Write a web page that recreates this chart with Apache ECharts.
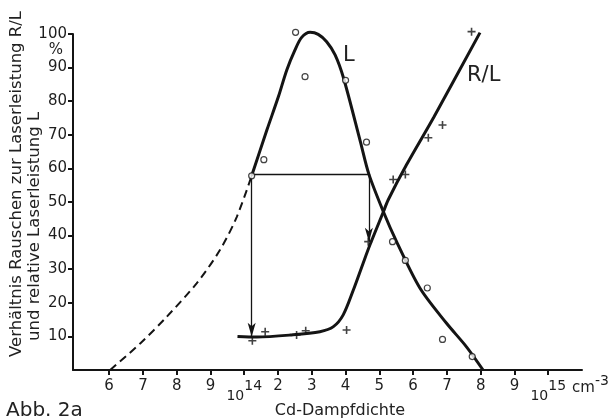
<!DOCTYPE html>
<html><head><meta charset="utf-8">
<script src="https://cdn.jsdelivr.net/npm/echarts@6/dist/echarts.min.js"></script>
<style>html,body{margin:0;padding:0;background:#fff}#c{width:615px;height:420px}</style>
</head><body><div id="c"></div>
<script>
// Axis of the figure: equally spaced ticks, values in units of 10^14 cm^-3
const tickDensities = [0.6, 0.7, 0.8, 0.9, 1, 2, 3, 4, 5, 6, 7, 8, 9, 10];
const tickLabels = ['6', '7', '8', '9', '10^14', '2', '3', '4', '5', '6', '7', '8', '9', '10^15'];

// Measured points: relative laser power L (circles)
const lPointDensity = [1.22, 1.58, 2.52, 2.80, 4.00, 4.62, 5.39, 5.77, 6.42, 6.87, 7.75];
const lPointValue   = [57.8, 62.6, 100.5, 87.3, 86.2, 67.8, 38.2, 32.6, 24.4, 9.1, 4.0];

// Measured points: noise to laser power R/L (crosses)
const rlPointDensity = [1.24, 1.62, 2.55, 2.82, 4.03, 4.67, 5.41, 5.77, 6.45, 6.87, 7.73];
const rlPointValue   = [8.7, 11.4, 10.4, 11.7, 11.9, 38.2, 56.7, 58.2, 69.1, 72.9, 100.7];

// Drawn curve L (solid part)
const lCurveDensity = [1.22, 1.67, 2.01, 2.26, 2.50, 2.70, 2.95, 3.19, 3.44, 3.69, 3.94, 4.44, 4.69, 5.12, 5.51, 6.20, 6.99, 7.58, 8.07];
const lCurveValue   = [57.8, 71.4, 81.3, 89.3, 95.2, 99.0, 100.5, 99.9, 97.7, 93.8, 86.9, 67.9, 58.3, 47.1, 38.2, 24.4, 13.9, 6.9, 0];

// Drawn curve L (dashed extrapolation)
const lDashDensity = [0.603, 0.692, 0.771, 0.859, 0.928, 0.978, 1.22];
const lDashValue   = [0, 7.9, 15.9, 25.8, 35.7, 45.6, 57.8];

// Drawn curve R/L
const rlCurveDensity = [0.98, 1.37, 2.36, 3.24, 3.64, 3.93, 4.23, 4.52, 4.72, 5.12, 5.26, 5.80, 6.62, 7.98];
const rlCurveValue   = [10.0, 9.8, 10.4, 11.4, 12.9, 16.4, 23.8, 31.8, 37.2, 47.1, 50.6, 61.0, 75.4, 100.4];

// Construction lines (horizontal at L level, arrows down)
const guideDensity = [1.22, 4.69];
const guideLevel = 58.3;
const arrowEndValue = [9.9, 38.2];

function toAxis(d) {
  const n = tickDensities.length;
  for (let k = 0; k < n - 1; k++) {
    const a = tickDensities[k], b = tickDensities[k + 1];
    if (d <= b || k === n - 2) return k + (d - a) / (b - a);
  }
}
function pairs(ds, vs) { return ds.map((d, i) => [toAxis(d), vs[i]]); }

const INK = '#141414';
const FONT = 'DejaVu Sans';
const tickIdx = tickDensities.map((d, i) => i);

const chart = echarts.init(document.getElementById('c'), null, {renderer: 'canvas'});
chart.setOption({
  animation: false,
  backgroundColor: '#fff',
  grid: {left: 73, right: 33, top: 34, bottom: 50, containLabel: false, outerBoundsMode: 'none'},
  xAxis: {
    type: 'value', min: -1.07, max: 14,
    axisLine: {show: true, onZero: false, lineStyle: {color: INK, width: 2}},
    splitLine: {show: false},
    axisTick: {show: true, customValues: tickIdx, length: 5, lineStyle: {color: INK, width: 2}},
    axisLabel: {
      customValues: tickIdx, margin: 9, color: '#1e1e1e', fontFamily: FONT, fontSize: 15,
      formatter: function (v) {
        const s = tickLabels[Math.round(v)] || '';
        if (s.indexOf('^') >= 0) {
          const p = s.split('^');
          return '{b|' + p[0] + '}{e|' + p[1] + '}';
        }
        return '{n|' + s + '}';
      },
      rich: {
        n: {fontFamily: FONT, fontSize: 15, lineHeight: 15, color: '#1e1e1e'},
        b: {fontFamily: FONT, fontSize: 14, lineHeight: 24, verticalAlign: 'bottom', color: '#1e1e1e'},
        e: {fontFamily: FONT, fontSize: 14, lineHeight: 15, verticalAlign: 'top', color: '#1e1e1e'}
      }
    }
  },
  yAxis: {
    type: 'value', min: 0, max: 100, interval: 10,
    axisLine: {show: true, onZero: false, lineStyle: {color: INK, width: 2}},
    splitLine: {show: false},
    axisTick: {show: true, length: 5, lineStyle: {color: INK, width: 2}},
    axisLabel: {showMinLabel: false, margin: 6, color: '#1e1e1e', fontFamily: FONT, fontSize: 15}
  },
  series: [
    {
      name: 'L', type: 'line', data: pairs(lCurveDensity, lCurveValue), smooth: 0.3,
      showSymbol: false, symbol: 'none', clip: false,
      lineStyle: {color: INK, width: 3}
    },
    {
      name: 'L extrapoliert', type: 'line', data: pairs(lDashDensity, lDashValue), smooth: 0.3,
      showSymbol: false, symbol: 'none', clip: false,
      lineStyle: {color: INK, width: 2, type: [8, 5]}
    },
    {
      name: 'R/L', type: 'line', data: pairs(rlCurveDensity, rlCurveValue), smooth: 0.3,
      showSymbol: false, symbol: 'none', clip: false,
      lineStyle: {color: INK, width: 3}
    },
    {
      name: 'Hilfslinien', type: 'line', data: [], symbol: 'none',
      markLine: {
        silent: true, label: {show: false}, symbolSize: [6, 14],
        lineStyle: {color: INK, width: 1.3, type: 'solid'},
        data: [
          [{coord: [toAxis(guideDensity[0]), guideLevel], symbol: 'none'},
           {coord: [toAxis(guideDensity[1]), guideLevel], symbol: 'none'}],
          [{coord: [toAxis(guideDensity[0]), guideLevel], symbol: 'none'},
           {coord: [toAxis(guideDensity[0]), arrowEndValue[0]], symbol: 'arrow'}],
          [{coord: [toAxis(guideDensity[1]), guideLevel], symbol: 'none'},
           {coord: [toAxis(guideDensity[1]), arrowEndValue[1]], symbol: 'arrow'}]
        ]
      }
    },
    {
      name: 'L Messpunkte', type: 'scatter', data: pairs(lPointDensity, lPointValue),
      symbol: 'circle', symbolSize: 6, clip: false, z: 5,
      itemStyle: {color: '#fff', borderColor: INK, borderWidth: 1.2}
    },
    {
      name: 'R/L Messpunkte', type: 'scatter', data: pairs(rlPointDensity, rlPointValue),
      symbol: 'path://M2.4,0H3.6V2.4H6V3.6H3.6V6H2.4V3.6H0V2.4H2.4Z', symbolSize: 8, clip: false, z: 5,
      itemStyle: {color: INK}
    }
  ],
  graphic: [
    {type: 'text', x: 17, y: 357, rotation: Math.PI / 2,
     style: {text: 'Verhältnis Rauschen zur Laserleistung R/L', font: '16.5px "DejaVu Sans"', fill: '#222', textAlign: 'left', textVerticalAlign: 'middle'}},
    {type: 'text', x: 35, y: 341, rotation: Math.PI / 2,
     style: {text: 'und relative Laserleistung L', font: '16.5px "DejaVu Sans"', fill: '#222', textAlign: 'left', textVerticalAlign: 'middle'}},
    {type: 'text', x: 56, y: 50,
     style: {text: '%', font: '15px "DejaVu Sans"', fill: '#1e1e1e', textAlign: 'center', textVerticalAlign: 'middle'}},
    {type: 'text', x: 343, y: 45,
     style: {text: 'L', font: '21px "DejaVu Sans"', fill: '#222', textAlign: 'left', textVerticalAlign: 'top'}},
    {type: 'text', x: 467, y: 65,
     style: {text: 'R/L', font: '21px "DejaVu Sans"', fill: '#222', textAlign: 'left', textVerticalAlign: 'top'}},
    {type: 'text', x: 572, y: 388,
     style: {text: 'cm', font: '15px "DejaVu Sans"', fill: '#1e1e1e', textAlign: 'left', textVerticalAlign: 'middle'}},
    {type: 'text', x: 595, y: 381,
     style: {text: '-3', font: '14px "DejaVu Sans"', fill: '#1e1e1e', textAlign: 'left', textVerticalAlign: 'middle'}},
    {type: 'text', x: 340, y: 411,
     style: {text: 'Cd-Dampfdichte', font: '16px "DejaVu Sans"', fill: '#222', textAlign: 'center', textVerticalAlign: 'middle'}},
    {type: 'text', x: 6, y: 411,
     style: {text: 'Abb. 2a', font: '20px "DejaVu Sans"', fill: '#222', textAlign: 'left', textVerticalAlign: 'middle'}}
  ]
});
</script>
</body></html>
